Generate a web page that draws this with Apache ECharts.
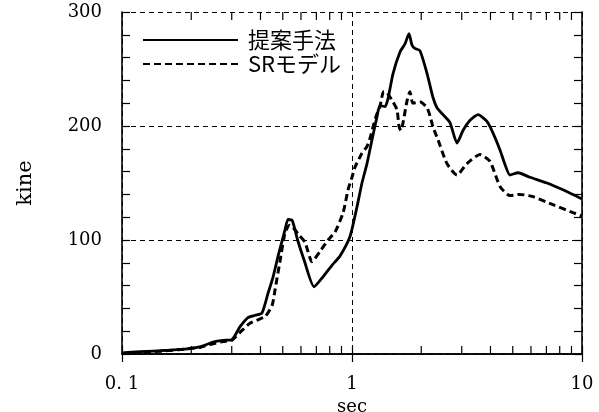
<!DOCTYPE html>
<html>
<head>
<meta charset="utf-8">
<style>
  html, body { margin: 0; padding: 0; background: #fff; }
  #chart { width: 599px; height: 412px; }
</style>
<script src="https://cdn.jsdelivr.net/npm/echarts@6/dist/echarts.min.js"></script>
</head>
<body>
<div id="chart"></div>
<script>
// Velocity response spectrum: period (sec) vs. response (kine)
const seriesNames = ['提案手法', 'SRモデル'];

const periodsProposed = [0.1, 0.12, 0.137, 0.16, 0.192, 0.22, 0.249, 0.275, 0.30, 0.326, 0.353, 0.38, 0.406,
  0.431, 0.453, 0.48, 0.51, 0.527, 0.55, 0.58, 0.62, 0.684, 0.75, 0.82, 0.887, 0.98, 1.051, 1.105, 1.162,
  1.222, 1.284, 1.323, 1.392, 1.434, 1.508, 1.617, 1.70, 1.769, 1.823, 1.878, 1.975, 2.12, 2.25, 2.342,
  2.487, 2.667, 2.861, 3.038, 3.26, 3.53, 3.86, 4.10, 4.40, 4.63, 4.86, 5.27, 5.94, 7.04, 8.27, 10];
const valuesProposed = [1, 2, 2.6, 3.3, 4.4, 6.5, 10.5, 12, 12.5, 24, 32, 34, 36,
  53, 67, 88, 108, 118, 117, 100, 82, 59, 68, 78, 86, 103, 129, 150, 167,
  188, 208, 218, 217, 224, 246, 265, 272, 281, 271, 268, 266, 246, 225, 216,
  210, 203, 185, 196, 205, 210, 204, 194, 179, 166, 157, 159, 155, 150, 144, 136];

const periodsSR = [0.1, 0.12, 0.137, 0.16, 0.192, 0.22, 0.249, 0.275, 0.30, 0.33, 0.36, 0.39, 0.42, 0.45,
  0.4625, 0.486, 0.511, 0.535, 0.554, 0.59, 0.625, 0.67, 0.726, 0.787, 0.844, 0.915, 0.961, 1.0, 1.031,
  1.105, 1.162, 1.197, 1.233, 1.28, 1.323, 1.37, 1.40, 1.508, 1.57, 1.60, 1.63, 1.735, 1.786, 1.84, 1.98,
  2.12, 2.19, 2.25, 2.365, 2.588, 2.861, 3.16, 3.60, 3.98, 4.40, 4.86, 5.37, 6.12, 7.48, 9.14, 10];
const valuesSR = [0.5, 1.2, 2, 3, 4.5, 6, 9, 11, 12, 20, 27, 30, 33, 43,
  56, 81, 106, 113, 111, 104, 98, 81, 90, 100, 107, 124, 144, 155, 164,
  176, 182, 189, 199, 210, 217, 230, 230, 221, 214, 200, 196, 222, 230, 220, 221,
  216, 208, 199, 188, 167, 157, 167, 175, 169, 147, 139, 140, 138, 131, 124, 121];

// Intermediate log-axis tick positions (2..9 in each decade)
const minorPeriods = [0.2, 0.3, 0.4, 0.5, 0.6, 0.7, 0.8, 0.9, 2, 3, 4, 5, 6, 7, 8, 9];

const yMin = 0, yMax = 300, yInterval = 100;
const xMin = 0.1, xMax = 10;

const pairs = (xs, ys) => xs.map((x, i) => [x, ys[i]]);

const serifFont = 'DejaVu Serif';
const gridDash = { color: '#000', width: 1, type: [5, 4] };
const tickLen = 8;

const chart = echarts.init(document.getElementById('chart'), null, { renderer: 'canvas' });

chart.setOption({
  animation: false,
  backgroundColor: '#fff',
  grid: { left: 122, right: 17, top: 12, bottom: 58, containLabel: false, outerBoundsMode: 'none' },
  legend: {
    data: seriesNames,
    orient: 'vertical',
    left: 142,
    top: 28,
    padding: 0,
    itemGap: 0,
    itemWidth: 95,
    itemHeight: 14,
    selectedMode: false,
    itemStyle: { opacity: 0 },
    textStyle: {
      fontFamily: 'Noto Sans CJK JP',
      fontSize: 22,
      lineHeight: 24,
      color: '#000',
      padding: [0, 0, 0, 5]
    }
  },
  xAxis: [
    {
      type: 'log',
      logBase: 10,
      min: xMin,
      max: xMax,
      name: 'sec',
      nameLocation: 'middle',
      nameGap: 41,
      nameTextStyle: { fontFamily: serifFont, fontSize: 18, color: '#000' },
      axisLine: { lineStyle: { color: '#000', width: 1.6 } },
      axisTick: { inside: true, length: tickLen, lineStyle: { color: '#000', width: 1.2 } },
      axisLabel: {
        margin: 21,
        fontFamily: serifFont,
        fontSize: 18,
        color: '#000',
        formatter: v => (Math.abs(v - 0.1) < 1e-9 ? '0. 1' : String(Math.round(v)))
      },
      splitLine: { show: true, lineStyle: gridDash }
    },
    {
      type: 'log',
      logBase: 10,
      min: xMin,
      max: xMax,
      position: 'top',
      axisLine: { lineStyle: { color: '#000', width: 1.6 } },
      axisTick: { inside: true, length: tickLen, lineStyle: { color: '#000', width: 1.2 } },
      axisLabel: { show: false },
      splitLine: { show: false }
    }
  ],
  yAxis: [
    {
      type: 'value',
      min: yMin,
      max: yMax,
      interval: yInterval,
      name: 'kine',
      nameLocation: 'middle',
      nameGap: 86,
      nameRotate: 90,
      nameTextStyle: { fontFamily: serifFont, fontSize: 21, color: '#000' },
      axisLine: { show: true, lineStyle: { color: '#000', width: 1.6 } },
      axisTick: { show: true, inside: true, length: tickLen, lineStyle: { color: '#000', width: 1.2 } },
      minorTick: { show: true, splitNumber: 5, length: tickLen, lineStyle: { color: '#000', width: 1.2 } },
      axisLabel: { margin: 20, fontFamily: serifFont, fontSize: 18, color: '#000' },
      splitLine: { show: true, lineStyle: gridDash }
    },
    {
      type: 'value',
      min: yMin,
      max: yMax,
      interval: yInterval,
      position: 'right',
      axisLine: { show: true, lineStyle: { color: '#000', width: 1.6 } },
      axisTick: { show: true, inside: true, length: tickLen, lineStyle: { color: '#000', width: 1.2 } },
      minorTick: { show: true, splitNumber: 5, length: tickLen, lineStyle: { color: '#000', width: 1.2 } },
      axisLabel: { show: false },
      splitLine: { show: false }
    }
  ],
  series: [
    {
      name: seriesNames[0],
      type: 'line',
      data: pairs(periodsProposed, valuesProposed),
      showSymbol: false,
      symbol: 'none',
      smooth: 0.2,
      lineStyle: { color: '#000', width: 2.8, type: 'solid' },
      itemStyle: { color: '#000' },
      z: 3
    },
    {
      name: seriesNames[1],
      type: 'line',
      data: pairs(periodsSR, valuesSR),
      showSymbol: false,
      symbol: 'none',
      smooth: 0.2,
      lineStyle: { color: '#000', width: 3, type: [7, 4] },
      itemStyle: { color: '#000' },
      z: 3
    },
    {
      // tick marks at 2..9 within each decade, on the bottom and top edges
      type: 'custom',
      silent: true,
      xAxisIndex: 0,
      yAxisIndex: 0,
      data: minorPeriods.map(p => [p]),
      encode: { x: 0 },
      renderItem: (params, api) => {
        const t = api.value(0);
        const b = api.coord([t, yMin]);
        const u = api.coord([t, yMax]);
        const style = { stroke: '#000', lineWidth: 1.2 };
        return {
          type: 'group',
          children: [
            { type: 'line', shape: { x1: b[0], y1: b[1], x2: b[0], y2: b[1] - tickLen }, style },
            { type: 'line', shape: { x1: u[0], y1: u[1], x2: u[0], y2: u[1] + tickLen }, style }
          ]
        };
      },
      z: 2
    }
  ]
});
</script>
</body>
</html>
